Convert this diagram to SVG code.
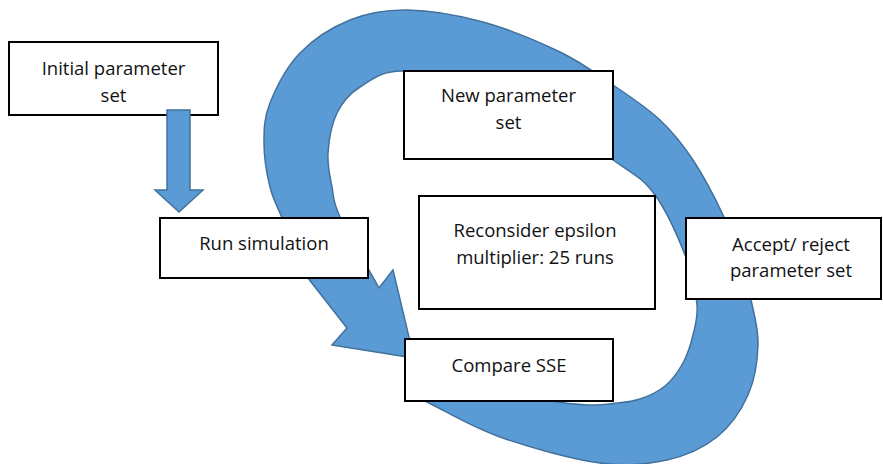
<svg xmlns="http://www.w3.org/2000/svg" width="883" height="464" viewBox="0 0 883 464">
  <style>
    .box { fill: #ffffff; stroke: #000000; stroke-width: 2; }
    .lbl { font-family: "Open Sans", "Liberation Sans", sans-serif; font-size: 18.5px; fill: #111111; text-anchor: middle; }
    .flow { fill: #5B9BD5; stroke: #41719C; stroke-width: 1.5; stroke-linejoin: miter; }
  </style>

  <!-- Starting node -->
  <g id="initial-parameter-set">
    <rect class="box" x="9" y="42" width="209" height="73"/>
    <text class="lbl" x="113.5" y="74.5">Initial parameter</text>
    <text class="lbl" x="113.5" y="101.5">set</text>
  </g>

  <!-- Block arrows: the feed-in arrow and the big circular loop -->
  <g id="connectors">
    <path id="loop-arrow" class="flow" d="
      M 415,396 L 427,402
      C 441.2,408.8 471.2,426.8 500,437
      C 528.8,447.2 572.2,459.2 600,463
      C 627.8,466.8 647.5,464.3 667,460
      C 686.5,455.7 703.5,447.8 717,437
      C 730.5,426.2 741.2,410.3 748,395
      C 754.8,379.7 757.5,360.8 758,345
      C 758.5,329.2 754.2,314.5 751,300
      C 747.8,285.5 743.5,271.8 739,258
      C 734.5,244.2 731.7,233.3 724,217
      C 716.3,200.7 703.7,176.2 693,160
      C 682.3,143.8 673.3,132.5 660,120
      C 646.7,107.5 629.7,96.3 613,85
      C 596.3,73.7 581.7,62.5 560,52
      C 538.3,41.5 508.5,29 483,22
      C 457.5,15 429.2,10.3 407,10
      C 384.8,9.7 367.8,12.8 350,20
      C 332.2,27.2 313.3,39.2 300,53
      C 286.7,66.8 276,88 270,103
      C 264,118 264,129 264,143
      C 264,157 266.8,174.2 270,187
      C 273.2,199.8 276.7,204.8 283,220
      C 289.3,235.2 299.7,258.7 308,278
      L 347,328 L 332,345 L 414,358 L 393,270 L 379,288
      C 366,264.3 347.8,233.8 340,217
      C 332.2,200.2 334,197.7 332,187
      C 330,176.3 327.2,165.3 328,153
      C 328.8,140.7 331.7,124 337,113
      C 342.3,102 348.8,94 360,87
      C 371.2,80 381,70.5 404,71
      C 429,72.3 475.2,80.2 510,95
      C 544.8,109.8 588.8,143.3 613,160
      C 637.2,176.7 642.7,178.3 655,195
      C 667.3,211.7 680,241.7 687,260
      C 694,278.3 696,292.5 697,305
      C 698,317.5 695.3,325.3 693,335
      C 690.7,344.7 687.7,354.5 683,363
      C 678.3,371.5 672.2,380 665,386
      C 657.8,392 648.7,396.1 640,399
      C 631.3,401.9 621.3,402.5 613,403.5
      C 604.7,404.5 600,405.4 590,405
      C 580,404.6 568,404.3 553,401
      L 500,385 Z"/>
    <polygon id="feed-arrow" class="flow" points="167,110 190,110 190,190 203,190 179,212 155,190 167,190"/>
  </g>

  <g id="run-simulation">
    <rect class="box" x="160" y="218" width="208" height="60"/>
    <text class="lbl" x="264" y="250">Run simulation</text>
  </g>

  <g id="new-parameter-set">
    <rect class="box" x="404" y="71" width="209" height="88"/>
    <text class="lbl" x="508.5" y="102">New parameter</text>
    <text class="lbl" x="508.5" y="129">set</text>
  </g>

  <g id="reconsider-epsilon">
    <rect class="box" x="419" y="196" width="236" height="113"/>
    <text class="lbl" x="535" y="236.5">Reconsider epsilon</text>
    <text class="lbl" x="535" y="264">multiplier: 25 runs</text>
  </g>

  <g id="accept-reject">
    <rect class="box" x="686" y="218" width="195" height="81"/>
    <text class="lbl" x="791" y="250.5">Accept/ reject</text>
    <text class="lbl" x="791" y="276.5">parameter set</text>
  </g>

  <g id="compare-sse">
    <rect class="box" x="405" y="339" width="208" height="62"/>
    <text class="lbl" x="509" y="371.5">Compare SSE</text>
  </g>
</svg>
